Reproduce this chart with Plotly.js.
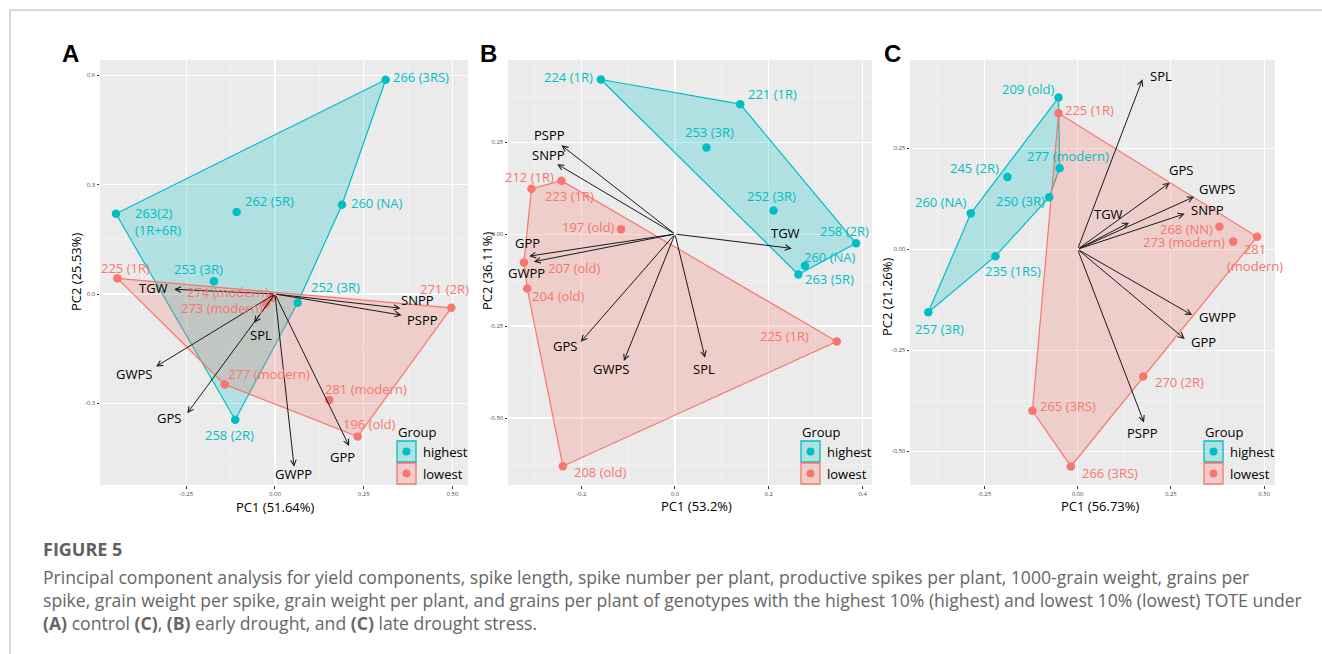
<!DOCTYPE html>
<html><head><meta charset="utf-8">
<script src="https://cdn.plot.ly/plotly-3.0.1.min.js"></script>
<style>html,body{margin:0;padding:0;background:#fff}#chart{width:1322px;height:654px}</style>
</head><body><div id="chart"></div>
<script>
// ---------------- DATA ----------------
// Panel A (control)
const A_highNames = ['266 (3RS)','263(2)<br>(1R+6R)','262 (5R)','260 (NA)','253 (3R)','252 (3R)','258 (2R)'];
const A_highPC1 = [0.312,-0.448,-0.108,0.189,-0.172,0.064,-0.112];
const A_highPC2 = [0.588,0.220,0.225,0.245,0.035,-0.024,-0.345];
const A_lowNames = ['225 (1R)','274 (modern)','273 (modern)','271 (2R)','277 (modern)','281 (modern)','196 (old)'];
const A_lowPC1 = [-0.444,-0.008,-0.025,0.497,-0.142,0.153,0.233];
const A_lowPC2 = [0.043,-0.010,-0.026,-0.038,-0.248,-0.291,-0.391];
const A_vars = ['TGW','SNPP','PSPP','SPL','GWPS','GPS','GWPP','GPP'];
const A_varPC1 = [-0.284,0.354,0.357,-0.059,-0.335,-0.247,0.054,0.209];
const A_varPC2 = [0.013,-0.039,-0.058,-0.079,-0.199,-0.327,-0.474,-0.417];

// Panel B (early drought)
const B_highNames = ['224 (1R)','221 (1R)','253 (3R)','252 (3R)','258 (2R)','260 (NA)','263 (5R)'];
const B_highPC1 = [-0.158,0.139,0.067,0.210,0.386,0.277,0.263];
const B_highPC2 = [0.420,0.353,0.235,0.064,-0.025,-0.086,-0.110];
const B_lowNames = ['212 (1R)','223 (1R)','197 (old)','207 (old)','204 (old)','225 (1R)','208 (old)'];
const B_lowPC1 = [-0.306,-0.242,-0.115,-0.322,-0.315,0.345,-0.239];
const B_lowPC2 = [0.123,0.145,0.013,-0.077,-0.148,-0.292,-0.631];
const B_vars = ['PSPP','SNPP','GPP','GWPP','TGW','GPS','GWPS','SPL'];
const B_varPC1 = [-0.242,-0.251,-0.311,-0.301,0.249,-0.201,-0.109,0.064];
const B_varPC2 = [0.241,0.190,-0.060,-0.075,-0.039,-0.293,-0.345,-0.336];

// Panel C (late drought)
const C_highNames = ['209 (old)','277 (modern)','245 (2R)','250 (3R)','260 (NA)','235 (1RS)','257 (3R)'];
const C_highPC1 = [-0.051,-0.048,-0.188,-0.076,-0.286,-0.220,-0.400];
const C_highPC2 = [0.376,0.201,0.179,0.129,0.089,-0.017,-0.156];
const C_lowNames = ['225 (1R)','268 (NN)','273 (modern)','281<br>(modern)','270 (2R)','265 (3RS)','266 (3RS)'];
const C_lowPC1 = [-0.051,0.380,0.417,0.481,0.176,-0.121,-0.018];
const C_lowPC2 = [0.337,0.056,0.019,0.031,-0.315,-0.400,-0.538];
const C_vars = ['SPL','GPS','GWPS','SNPP','TGW','GWPP','GPP','PSPP'];
const C_varPC1 = [0.174,0.247,0.312,0.287,0.138,0.307,0.287,0.178];
const C_varPC2 = [0.421,0.165,0.130,0.088,0.066,-0.163,-0.222,-0.429];

// Axis text
const A_xTickVals = [-0.25,0,0.25,0.5], A_xTickText = ['-0.25','0.00','0.25','0.50'];
const A_yTickVals = [-0.3,0,0.3,0.6],   A_yTickText = ['-0.3','0.0','0.3','0.6'];
const B_xTickVals = [-0.2,0,0.2,0.4],   B_xTickText = ['-0.2','0.0','0.2','0.4'];
const B_yTickVals = [-0.5,-0.25,0,0.25], B_yTickText = ['-0.50','-0.25','0.00','0.25'];
const C_xTickVals = [-0.25,0,0.25,0.5], C_xTickText = ['-0.25','0.00','0.25','0.50'];
const C_yTickVals = [-0.5,-0.25,0,0.25], C_yTickText = ['-0.50','-0.25','0.00','0.25'];
const groupNames = ['highest','lowest'];
const captionTitle = 'FIGURE 5';
const captionLines = [
 'Principal component analysis for yield components, spike length, spike number per plant, productive spikes per plant, 1000-grain weight, grains per',
 'spike, grain weight per spike, grain weight per plant, and grains per plant of genotypes with the highest 10% (highest) and lowest 10% (lowest) TOTE under',
 '<b>(A)</b> control <b>(C)</b>, <b>(B)</b> early drought, and <b>(C)</b> late drought stress.'
];

// ---------------- STYLE / LAYOUT ----------------
const W = 1322, H = 654;
const PX = x => x / W, PY = y => 1 - y / H;
const CYAN = '#00BFC4', RED = '#F8766D';
const FILL_C = 'rgba(0,191,196,0.25)', FILL_R = 'rgba(248,118,109,0.25)';
const FONT = 'Open Sans, Noto Sans, sans-serif';

const panels = [
 {letter:'A', xa:'x', ya:'y', L:100, R:468, T:60, B:485, xr:[-0.493,0.544], yr:[-0.524,0.642],
  xtv:A_xTickVals, xtt:A_xTickText, ytv:A_yTickVals, ytt:A_yTickText,
  xminor:[-0.375,-0.125,0.125,0.375], yminor:[-0.45,-0.15,0.15,0.45],
  xtitle:'PC1 (51.64%)', ytitle:'PC2 (25.53%)', xtpos:[275,507], ytpos:[76,272], letterPos:[70,54],
  high:[A_highNames,A_highPC1,A_highPC2], low:[A_lowNames,A_lowPC1,A_lowPC2], vars:[A_vars,A_varPC1,A_varPC2],
  highOff:[[35,-3],[42,8],[33,-11],[35,-2],[-15,-12],[38,-16],[-6,15]],
  lowOff:[[8,-10],[-44,-6],[-44,5],[-7,-19],[44,-10],[37,-11],[12,-13]],
  varOff:[[-21,-1],[17,-8],[21,5],[7,12],[-22,7],[-18,5],[-1,7],[-7,11]]},
 {letter:'B', xa:'x2', ya:'y2', L:508, R:872, T:60, B:485, xr:[-0.356,0.420], yr:[-0.682,0.473],
  xtv:B_xTickVals, xtt:B_xTickText, ytv:B_yTickVals, ytt:B_yTickText,
  xminor:[-0.3,-0.1,0.1,0.3], yminor:[-0.625,-0.375,-0.125,0.125,0.375],
  xtitle:'PC1 (53.2%)', ytitle:'PC2 (36.11%)', xtpos:[696,506], ytpos:[487,271], letterPos:[488,54],
  high:[B_highNames,B_highPC1,B_highPC2], low:[B_lowNames,B_lowPC1,B_lowPC2], vars:[B_vars,B_varPC1,B_varPC2],
  highOff:[[-32,-3],[32,-10],[3,-16],[-2,-15],[-12,-12],[25,-9],[31,4]],
  lowOff:[[-2,-12],[8,15],[-33,-2],[51,6],[31,7],[-52,-5],[38,6]],
  varOff:[[-12,-10],[-9,-9],[-2,-13],[-7,11],[-6,-15],[-16,4],[-13,8],[-1,11]]},
 {letter:'C', xa:'x3', ya:'y3', L:910, R:1275, T:60, B:485, xr:[-0.449,0.529], yr:[-0.584,0.469],
  xtv:C_xTickVals, xtt:C_xTickText, ytv:C_yTickVals, ytt:C_yTickText,
  xminor:[-0.375,-0.125,0.125,0.375], yminor:[-0.375,-0.125,0.125,0.375],
  xtitle:'PC1 (56.73%)', ytitle:'PC2 (21.26%)', xtpos:[1100,506], ytpos:[887,297], letterPos:[892,54],
  high:[C_highNames,C_highPC1,C_highPC2], low:[C_lowNames,C_lowPC1,C_lowPC2], vars:[C_vars,C_varPC1,C_varPC2],
  highOff:[[-30,-9],[8,-12],[-33,-9],[-29,4],[-30,-11],[18,15],[11,17]],
  lowOff:[[31,-3],[-33,2],[-49,0],[-2,21],[36,6],[36,-5],[39,7]],
  varOff:[[18,-3],[11,-13],[23,-8],[23,-4],[-21,-9],[25,2],[19,3],[-2,11]]}
];

function hull(xs, ys) {
  const pts = xs.map((x,i)=>[x,ys[i]]).sort((a,b)=>a[0]-b[0]||a[1]-b[1]);
  const cross=(o,a,b)=>(a[0]-o[0])*(b[1]-o[1])-(a[1]-o[1])*(b[0]-o[0]);
  const lower=[], upper=[];
  for (const p of pts){ while(lower.length>=2&&cross(lower[lower.length-2],lower[lower.length-1],p)<=0) lower.pop(); lower.push(p); }
  for (let i=pts.length-1;i>=0;i--){ const p=pts[i]; while(upper.length>=2&&cross(upper[upper.length-2],upper[upper.length-1],p)<=0) upper.pop(); upper.push(p); }
  upper.pop(); lower.pop();
  const h = lower.concat(upper); h.push(h[0]);
  return {x:h.map(p=>p[0]), y:h.map(p=>p[1])};
}

const traces = [], annotations = [], shapes = [];
const layout = {
  width: W, height: H, margin:{l:0,r:0,t:0,b:0}, paper_bgcolor:'#fff', plot_bgcolor:'#EBEBEB',
  showlegend:false, font:{family:FONT, color:'#000'}
};

panels.forEach((p, k) => {
  const sfx = k === 0 ? '' : String(k+1);
  const common = {showline:false, zeroline:false, ticks:'outside', ticklen:2.5, tickwidth:1, tickcolor:'#333',
    tickfont:{size:6, color:'#4d4d4d', family:FONT}, gridcolor:'#FFFFFF', gridwidth:1.1, tickmode:'array', fixedrange:true};
  layout['xaxis'+sfx] = Object.assign({}, common, {domain:[PX(p.L), PX(p.R)], range:p.xr, anchor:p.ya,
    tickvals:p.xtv, ticktext:p.xtt,
    minor:{tickmode:'array', tickvals:p.xminor, showgrid:true, gridcolor:'#F5F5F5', gridwidth:0.6, ticks:''}});
  layout['yaxis'+sfx] = Object.assign({}, common, {domain:[PY(p.B), PY(p.T)], range:p.yr, anchor:p.xa,
    tickvals:p.ytv, ticktext:p.ytt,
    minor:{tickmode:'array', tickvals:p.yminor, showgrid:true, gridcolor:'#F5F5F5', gridwidth:0.6, ticks:''}});

  const groups = [[p.high, CYAN, FILL_C, p.highOff],[p.low, RED, FILL_R, p.lowOff]];
  // hull polygons
  groups.forEach(([g, col, fill]) => {
    const h = hull(g[1], g[2]);
    traces.push({type:'scatter', mode:'lines', x:h.x, y:h.y, xaxis:p.xa, yaxis:p.ya, fill:'toself',
      fillcolor:fill, line:{color:col, width:1.2}, hoverinfo:'skip'});
  });
  // points
  groups.forEach(([g, col]) => {
    traces.push({type:'scatter', mode:'markers', x:g[1], y:g[2], xaxis:p.xa, yaxis:p.ya,
      marker:{color:col, size:8.5}, hoverinfo:'skip'});
  });
  // variable arrows
  const [vn, vx, vy] = p.vars;
  vn.forEach((n, i) => {
    annotations.push({xref:p.xa, yref:p.ya, axref:p.xa, ayref:p.ya, x:vx[i], y:vy[i], ax:0, ay:0,
      text:'', showarrow:true, arrowhead:5, arrowsize:1.1, arrowwidth:1, arrowcolor:'#1a1a1a', standoff:0, startstandoff:0});
    annotations.push({xref:p.xa, yref:p.ya, x:vx[i], y:vy[i], text:n, showarrow:false,
      xshift:p.varOff[i][0], yshift:-p.varOff[i][1], font:{size:13, color:'#000', family:FONT}});
  });
  // point labels
  groups.forEach(([g, col, fill, off]) => {
    g[0].forEach((n, i) => {
      annotations.push({xref:p.xa, yref:p.ya, x:g[1][i], y:g[2][i], text:n, showarrow:false, align: n.indexOf('263')===0 ? 'left':'center',
        xshift:off[i][0], yshift:-off[i][1], font:{size:13, color:col, family:FONT}});
    });
  });
  // axis titles
  annotations.push({xref:'paper', yref:'paper', x:PX(p.xtpos[0]), y:PY(p.xtpos[1]), text:p.xtitle, showarrow:false,
    xanchor:'center', yanchor:'middle', font:{size:13, color:'#000', family:FONT}});
  annotations.push({xref:'paper', yref:'paper', x:PX(p.ytpos[0]), y:PY(p.ytpos[1]), text:p.ytitle, showarrow:false,
    textangle:-90, xanchor:'center', yanchor:'middle', font:{size:13, color:'#000', family:FONT}});
  // panel letter
  annotations.push({xref:'paper', yref:'paper', x:PX(p.letterPos[0]), y:PY(p.letterPos[1]), text:'<b>'+p.letter+'</b>', showarrow:false,
    xanchor:'center', yanchor:'middle', font:{size:24, color:'#000', family:'Liberation Sans, Arial, sans-serif'}});
  // legend (Group)
  const R = p.R, Bt = p.B;
  annotations.push({xref:'paper', yref:'paper', x:PX(R-72), y:PY(Bt-53), text:'Group', showarrow:false,
    xanchor:'left', yanchor:'middle', font:{size:13, color:'#000', family:FONT}});
  [[CYAN, FILL_C, Bt-44, Bt-23],[RED, FILL_R, Bt-22, Bt-1]].forEach(([col, fill, y0, y1], j) => {
    shapes.push({type:'rect', xref:'paper', yref:'paper', x0:PX(R-71), x1:PX(R-52), y0:PY(y1), y1:PY(y0),
      fillcolor:fill, line:{color:col, width:1.3}});
    const cy = (y0+y1)/2, cx = R-61.5;
    shapes.push({type:'circle', xref:'paper', yref:'paper', x0:PX(cx-4), x1:PX(cx+4), y0:PY(cy+4), y1:PY(cy-4),
      fillcolor:col, line:{width:0}});
    annotations.push({xref:'paper', yref:'paper', x:PX(R-47), y:PY(cy), text:groupNames[j], showarrow:false,
      xanchor:'left', yanchor:'middle', font:{size:13, color:'#000', family:FONT}});
  });
});

// frame lines
shapes.push({type:'line', xref:'paper', yref:'paper', x0:PX(10), x1:1, y0:PY(10), y1:PY(10), line:{color:'#cccccc', width:1.5}});
shapes.push({type:'line', xref:'paper', yref:'paper', x0:PX(10), x1:PX(10), y0:PY(10), y1:0, line:{color:'#cccccc', width:1.5}});

// caption
annotations.push({xref:'paper', yref:'paper', x:PX(41), y:PY(549), text:'<b>'+captionTitle+'</b>', showarrow:false,
  xanchor:'left', yanchor:'middle', font:{size:18, color:'#5f5f5f', family:FONT}});
[577, 600, 623].forEach((yy, i) => {
  annotations.push({xref:'paper', yref:'paper', x:PX(41), y:PY(yy), text:captionLines[i], showarrow:false,
    xanchor:'left', yanchor:'middle', font:{size:17.6, color:'#666666', family:FONT}});
});

layout.annotations = annotations;
layout.shapes = shapes;
Plotly.newPlot('chart', traces, layout, {displayModeBar:false, staticPlot:true});
</script></body></html>
